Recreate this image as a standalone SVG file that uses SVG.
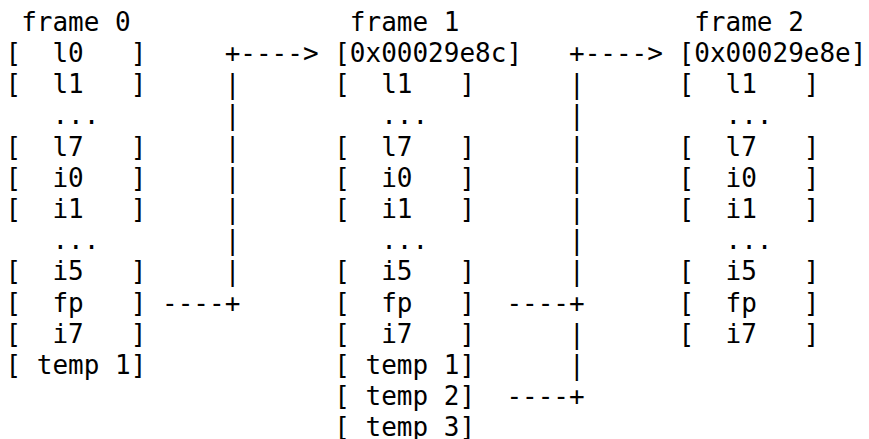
<svg xmlns="http://www.w3.org/2000/svg" width="869" height="439" viewBox="0 0 869 439" xml:space="preserve">
<style>
text { font-family: "DejaVu Sans Mono", "Liberation Mono", monospace; font-size: 26px; fill: #000; white-space: pre; }
</style>
<rect x="0" y="0" width="869" height="439" fill="#fff"/>
<g id="frame0">
<text x="21.15" y="30.8">frame 0</text>
<text x="5.5" y="62">[  l0   ]</text>
<text x="5.5" y="93.2">[  l1   ]</text>
<text x="52.46" y="124.4">...</text>
<text x="5.5" y="155.6">[  l7   ]</text>
<text x="5.5" y="186.8">[  i0   ]</text>
<text x="5.5" y="218">[  i1   ]</text>
<text x="52.46" y="249.2">...</text>
<text x="5.5" y="280.4">[  i5   ]</text>
<text x="5.5" y="311.6">[  fp   ]</text>
<text x="5.5" y="342.8">[  i7   ]</text>
<text x="5.5" y="374">[ temp 1]</text>
</g>
<g id="frame1">
<text x="349.87" y="30.8">frame 1</text>
<text x="334.21" y="62">[0x00029e8c]</text>
<text x="334.21" y="93.2">[  l1   ]</text>
<text x="381.17" y="124.4">...</text>
<text x="334.21" y="155.6">[  l7   ]</text>
<text x="334.21" y="186.8">[  i0   ]</text>
<text x="334.21" y="218">[  i1   ]</text>
<text x="381.17" y="249.2">...</text>
<text x="334.21" y="280.4">[  i5   ]</text>
<text x="334.21" y="311.6">[  fp   ]</text>
<text x="334.21" y="342.8">[  i7   ]</text>
<text x="334.21" y="374">[ temp 1]</text>
<text x="334.21" y="405.2">[ temp 2]</text>
<text x="334.21" y="436.4">[ temp 3]</text>
</g>
<g id="frame2">
<text x="694.23" y="30.8">frame 2</text>
<text x="678.58" y="62">[0x00029e8e]</text>
<text x="678.58" y="93.2">[  l1   ]</text>
<text x="725.54" y="124.4">...</text>
<text x="678.58" y="155.6">[  l7   ]</text>
<text x="678.58" y="186.8">[  i0   ]</text>
<text x="678.58" y="218">[  i1   ]</text>
<text x="725.54" y="249.2">...</text>
<text x="678.58" y="280.4">[  i5   ]</text>
<text x="678.58" y="311.6">[  fp   ]</text>
<text x="678.58" y="342.8">[  i7   ]</text>
</g>
<g id="connectors">
<g id="link-frame0-frame1">
<text x="224.64" y="62">+----&gt;</text>
<text x="224.64" y="93.2">|</text>
<text x="224.64" y="124.4">|</text>
<text x="224.64" y="155.6">|</text>
<text x="224.64" y="186.8">|</text>
<text x="224.64" y="218">|</text>
<text x="224.64" y="249.2">|</text>
<text x="224.64" y="280.4">|</text>
<text x="162.03" y="311.6">----+</text>
</g>
<g id="link-frame1-frame2">
<text x="569.01" y="62">+----&gt;</text>
<text x="569.01" y="93.2">|</text>
<text x="569.01" y="124.4">|</text>
<text x="569.01" y="155.6">|</text>
<text x="569.01" y="186.8">|</text>
<text x="569.01" y="218">|</text>
<text x="569.01" y="249.2">|</text>
<text x="569.01" y="280.4">|</text>
<text x="506.4" y="311.6">----+</text>
<text x="569.01" y="342.8">|</text>
<text x="569.01" y="374">|</text>
<text x="506.4" y="405.2">----+</text>
</g>
</g>
</svg>
